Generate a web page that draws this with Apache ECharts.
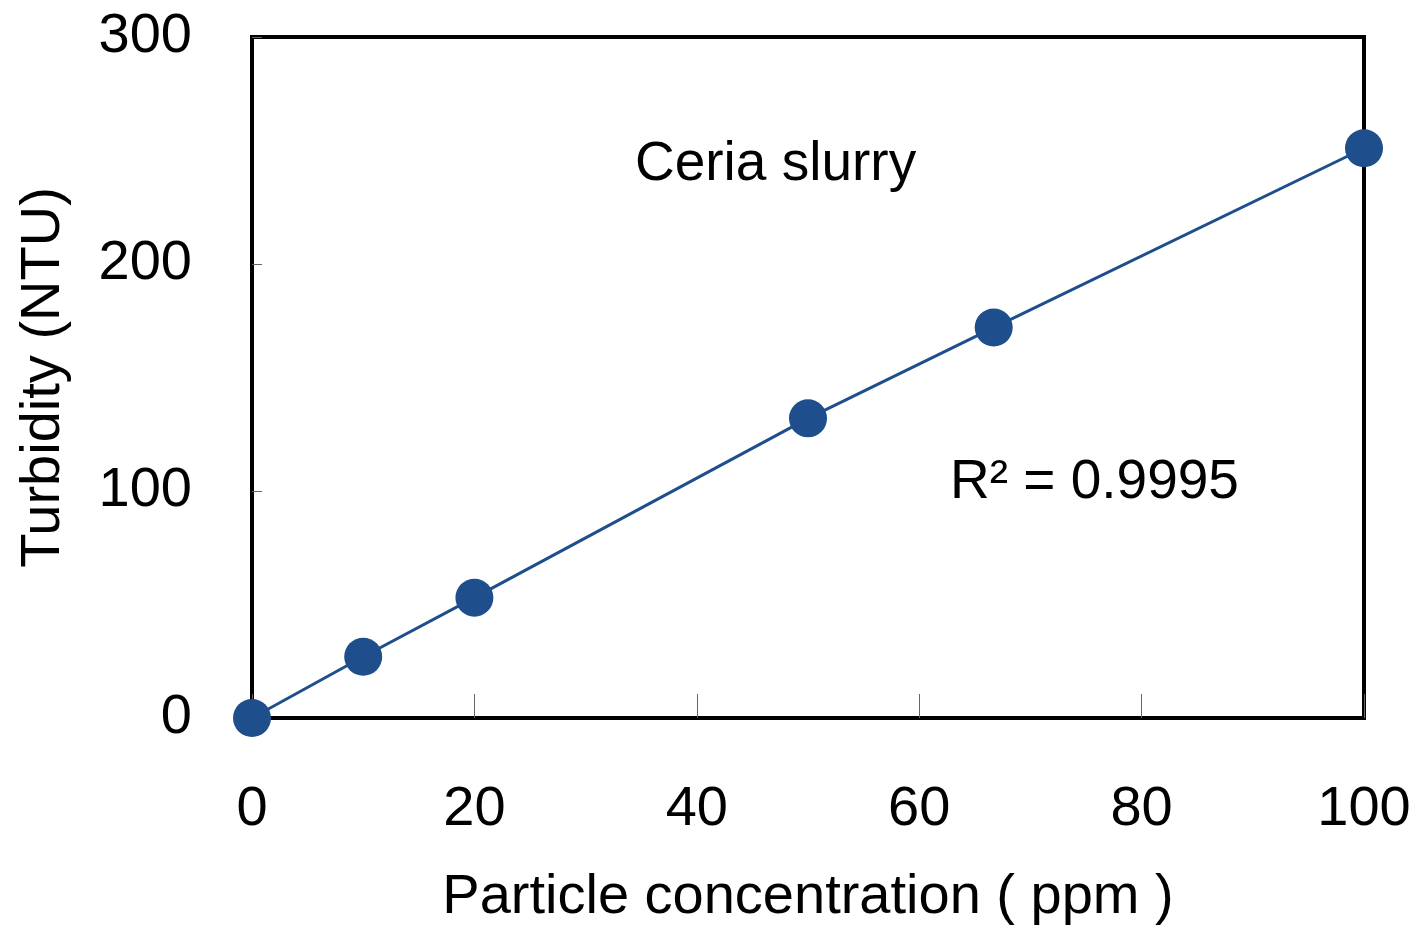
<!DOCTYPE html>
<html>
<head>
<meta charset="utf-8">
<script src="https://cdn.jsdelivr.net/npm/echarts@6/dist/echarts.min.js"></script>
<style>
html,body{margin:0;padding:0;background:#fff;}
#chart{width:1416px;height:932px;}
</style>
</head>
<body>
<div id="chart"></div>
<script>
const concentration = [0, 10, 20, 50, 66.7, 100];
const turbidity = [0, 27, 53, 132, 172, 251];
const xTicks = [0, 20, 40, 60, 80, 100];
const yTicks = [0, 100, 200, 300];
const xTitle = 'Particle concentration ( ppm )';
const yTitle = 'Turbidity (NTU)';
const seriesLabel = 'Ceria slurry';
const r2Label = 'R² = 0.9995';

const FONT = '"Liberation Sans", Arial, sans-serif';
const chart = echarts.init(document.getElementById('chart'));
const points = concentration.map((x, i) => [x, turbidity[i]]);

chart.setOption({
  animation: false,
  backgroundColor: '#fff',
  grid: {
    left: 252, right: 52, top: 37, bottom: 214,
    outerBoundsMode: 'none', containLabel: false,
    show: true, borderColor: '#000', borderWidth: 4, backgroundColor: 'transparent'
  },
  xAxis: {
    type: 'value', min: 0, max: 100, interval: 20,
    name: xTitle, nameLocation: 'middle', nameGap: 152,
    nameTextStyle: { fontFamily: FONT, fontSize: 56, color: '#000' },
    axisLine: { show: false },
    axisTick: { show: true, inside: true, length: 24, lineStyle: { color: '#666', width: 1 } },
    axisLabel: { fontFamily: FONT, fontSize: 56, color: '#000', margin: 64 },
    splitLine: { show: false }
  },
  yAxis: {
    type: 'value', min: 0, max: 300, interval: 100,
    name: yTitle, nameLocation: 'middle', nameGap: 180,
    nameTextStyle: { fontFamily: FONT, fontSize: 56, color: '#000' },
    axisLine: { show: false },
    axisTick: { show: true, inside: true, length: 10, lineStyle: { color: '#666', width: 1 } },
    axisLabel: { fontFamily: FONT, fontSize: 56, color: '#000', margin: 60 },
    splitLine: { show: false }
  },
  title: [
    { text: seriesLabel, left: 630, top: 132, textStyle: { fontFamily: FONT, fontSize: 55, fontWeight: 'normal', color: '#000' } },
    { text: r2Label, left: 945, top: 450, textStyle: { fontFamily: FONT, fontSize: 55, fontWeight: 'normal', color: '#000' } }
  ],
  series: [{
    type: 'line',
    data: points,
    symbol: 'circle',
    symbolSize: 38,
    clip: false,
    lineStyle: { color: '#1F4E8C', width: 3 },
    itemStyle: { color: '#1F4E8C' }
  }]
});
</script>
</body>
</html>
